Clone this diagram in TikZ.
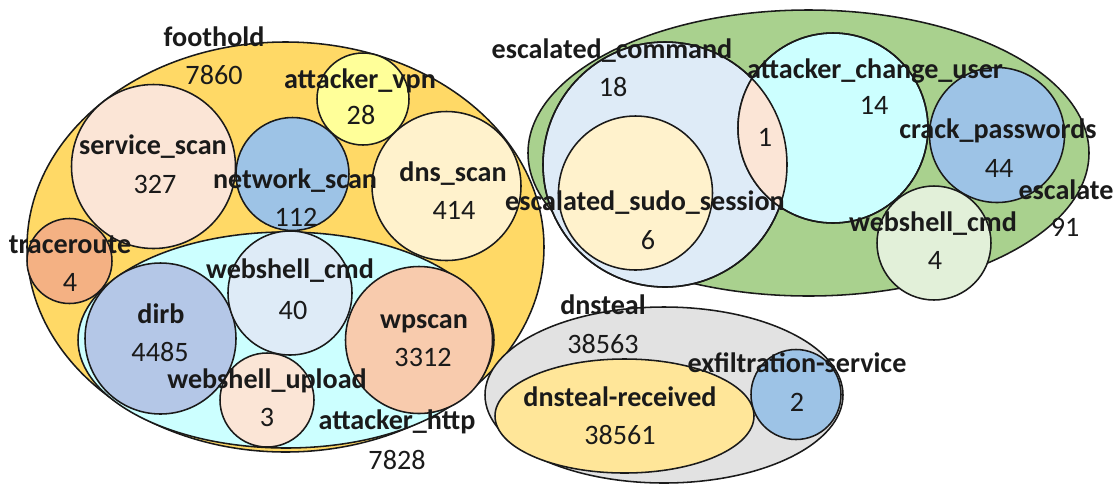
\documentclass[tikz,border=0pt]{standalone}
\usepackage{fontspec}
\setmainfont{Carlito}
\usepackage{tikz}
\definecolor{InkDark}{RGB}{26,26,26}
\definecolor{FootFill}{HTML}{FFD966}
\definecolor{HttpFill}{HTML}{CCFFFF}
\definecolor{PeachFill}{HTML}{FBE5D6}
\definecolor{SkyFill}{HTML}{9DC3E6}
\definecolor{VpnFill}{HTML}{FFFF99}
\definecolor{CreamFill}{HTML}{FFF2CC}
\definecolor{TraceFill}{HTML}{F4B183}
\definecolor{DirbFill}{HTML}{B4C7E7}
\definecolor{PaleBlue}{HTML}{DEEBF7}
\definecolor{WpFill}{HTML}{F8CBAD}
\definecolor{EscFill}{HTML}{A9D18E}
\definecolor{PaleGreen}{HTML}{E2F0D9}
\definecolor{StealFill}{HTML}{E2E2E2}
\definecolor{RecvFill}{HTML}{FFE699}

\begin{document}
\begin{tikzpicture}[
    x=0.025cm, y=-0.025cm,
    setline/.style={draw=InkDark, line width=1.1pt},
    setname/.style={text=InkDark, inner sep=0pt, text height=0.95em, text depth=0pt,
                    font=\fontsize{20}{24}\selectfont\bfseries},
    setcount/.style={text=InkDark, inner sep=0pt, text height=0.95em, text depth=0pt,
                     font=\fontsize{20}{24}\selectfont}
  ]
    \useasboundingbox (0,0) rectangle (1120,483);

    % foothold
    \draw[setline, fill=FootFill] (285.5,247) ellipse [x radius=258.5, y radius=205];
    \draw[setline, fill=HttpFill] (286,340) ellipse [x radius=208, y radius=108];
    \draw[setline, fill=PeachFill] (153.5,166.5) circle [radius=82];
    \draw[setline, fill=SkyFill] (292.5,174) circle [radius=56.5];
    \draw[setline, fill=VpnFill] (363,99) circle [radius=46];
    \draw[setline, fill=CreamFill] (446.5,186) circle [radius=74.5];
    \draw[setline, fill=TraceFill] (69.5,261) circle [radius=42.5];
    \draw[setline, fill=DirbFill] (160.5,338.5) circle [radius=75.5];
    \draw[setline, fill=PaleBlue] (290,293) circle [radius=62];
    \draw[setline, fill=WpFill] (419,340) circle [radius=73.5];
    \draw[setline, fill=PeachFill] (267,400) circle [radius=47];

    % escalate
    \draw[setline, fill=EscFill] (808.5,153) ellipse [x radius=280.5, y radius=143];
    \draw[setline, fill=PaleBlue] (665,164.5) ellipse [x radius=122, y radius=122.5];
    \draw[setline, fill=CreamFill] (635.5,193) circle [radius=77];
    \draw[setline, fill=HttpFill] (833,128) circle [radius=95];
    \begin{scope}
      \clip (665,164.5) ellipse [x radius=122, y radius=122.5];
      \fill[PeachFill] (833,128) circle [radius=95];
    \end{scope}
    \draw[setline] (665,164.5) ellipse [x radius=122, y radius=122.5];
    \draw[setline] (833,128) circle [radius=95];
    \draw[setline, fill=SkyFill] (997,135) circle [radius=67.5];
    \draw[setline, fill=PaleGreen] (934,243) circle [radius=57];

    % dnsteal
    \draw[setline, fill=StealFill] (664,395) ellipse [x radius=179, y radius=88];
    \draw[setline, fill=RecvFill] (624.5,416) ellipse [x radius=129.5, y radius=57];
    \draw[setline, fill=SkyFill] (796,394.5) circle [radius=45];

    % names and counts
    \node[setname] (foot) at (214,40) {foothold};
    \node[setcount] (footN) at (214,78) {7860};
    \node[setname] (vpn) at (360,82) {attacker\_vpn};
    \node[setcount] (vpnN) at (361,118) {28};
    \node[setname] (svc) at (153,148) {service\_scan};
    \node[setcount] (svcN) at (155,187) {327};
    \node[setname] (net) at (295,182) {network\_scan};
    \node[setcount] (netN) at (296,220) {112};
    \node[setname] (dns) at (453,175) {dns\_scan};
    \node[setcount] (dnsN) at (454,213) {414};
    \node[setname] (trace) at (70,247) {traceroute};
    \node[setcount] (traceN) at (70,285) {4};
    \node[setname] (wcmd) at (290,272) {webshell\_cmd};
    \node[setcount] (wcmdN) at (293,313) {40};
    \node[setname] (dirb) at (161,317) {dirb};
    \node[setcount] (dirbN) at (160,355) {4485};
    \node[setname] (wp) at (424,322) {wpscan};
    \node[setcount] (wpN) at (423,360) {3312};
    \node[setname] (wup) at (267,382) {webshell\_upload};
    \node[setcount] (wupN) at (267,420) {3};
    \node[setname] (http) at (397,423) {attacker\_http};
    \node[setcount] (httpN) at (397,463) {7828};

    \node[setname] (ecmd) at (612,52) {escalated\_command};
    \node[setcount] (ecmdN) at (613,90) {18};
    \node[setname] (sudo) at (645,204) {escalated\_sudo\_session};
    \node[setcount] (sudoN) at (648,243) {6};
    \node[setname] (chg) at (875,72) {attacker\_change\_user};
    \node[setcount] (chgN) at (874,108) {14};
    \node[setcount] (lensN) at (765,140) {1};
    \node[setname] (crack) at (998,132) {crack\_passwords};
    \node[setcount] (crackN) at (999,171) {44};
    \node[setname] (esc) at (1066,193) {escalate};
    \node[setcount] (escN) at (1065,230) {91};
    \node[setname] (wcmd2) at (933,225) {webshell\_cmd};
    \node[setcount] (wcmd2N) at (935,263) {4};

    \node[setname] (steal) at (603,308) {dnsteal};
    \node[setcount] (stealN) at (603,347) {38563};
    \node[setname] (recv) at (620,400) {dnsteal-received};
    \node[setcount] (recvN) at (620,438) {38561};
    \node[setname] (exfil) at (797,366) {exfiltration-service};
    \node[setcount] (exfilN) at (797,405) {2};
  \end{tikzpicture}
\end{document}
